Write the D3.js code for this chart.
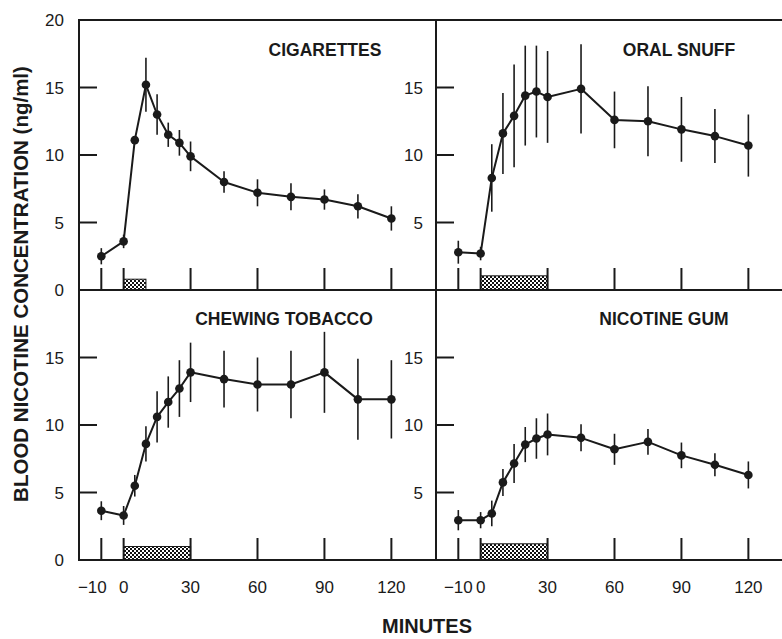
<!DOCTYPE html>
<html>
<head>
<meta charset="utf-8">
<script src="https://cdn.jsdelivr.net/npm/d3@7"></script>
<style>
  html, body { margin: 0; padding: 0; background: #fff; }
  svg { display: block; }
  text { font-family: "Liberation Sans", Arial, Helvetica, sans-serif; fill: #1a1a1a; }
</style>
</head>
<body>
<svg id="chart" width="782" height="639"></svg>
<script>
// ---- data ----
const minutes = [-10, 0, 5, 10, 15, 20, 25, 30, 45, 60, 75, 90, 105, 120];
const panelNames = ["CIGARETTES", "ORAL SNUFF", "CHEWING TOBACCO", "NICOTINE GUM"];

const cigarettesMean = [2.5, 3.6, 11.1, 15.2, 13.0, 11.5, 10.9, 9.9, 8.0, 7.2, 6.9, 6.7, 6.2, 5.3];
const cigarettesErr  = [0.6, 0.5, 0.3, 2.0, 1.5, 0.9, 0.95, 1.1, 0.8, 1.0, 1.0, 0.75, 0.9, 0.9];

const oralSnuffMean = [2.8, 2.7, 8.3, 11.6, 12.9, 14.4, 14.7, 14.3, 14.9, 12.6, 12.5, 11.9, 11.4, 10.7];
const oralSnuffErr  = [0.85, 0.5, 2.5, 3.0, 3.8, 3.7, 3.4, 3.4, 3.3, 2.1, 2.6, 2.4, 2.0, 2.3];

const chewingMean = [3.65, 3.3, 5.5, 8.6, 10.6, 11.7, 12.7, 13.9, 13.4, 13.0, 13.0, 13.9, 11.9, 11.9];
const chewingErr  = [0.7, 0.7, 0.8, 1.3, 1.9, 1.9, 2.1, 2.2, 2.1, 2.0, 2.5, 3.0, 3.0, 2.9];

const gumMean = [2.95, 2.95, 3.45, 5.75, 7.15, 8.55, 9.0, 9.3, 9.05, 8.2, 8.75, 7.75, 7.05, 6.3];
const gumErr  = [0.75, 0.6, 0.95, 1.0, 1.45, 1.3, 1.5, 1.55, 1.0, 1.15, 0.95, 0.95, 0.85, 1.0];

// exposure period [start, end] in minutes and bar height in ng/ml
const exposureStart = [0, 0, 0, 0];
const exposureEnd   = [10, 30, 30, 30];
const exposureLevel = [0.8, 1.05, 1.0, 1.2];

const xTickValues = [-10, 0, 30, 60, 90, 120];
const xTickLabels = ["\u221210", "0", "30", "60", "90", "120"];
const yTickValues = [5, 10, 15];
const yLabelsOuterTop = [0, 5, 10, 15, 20];
const yLabelsOuterBottom = [0, 5, 10, 15];
const yLabelsInner = [5, 10, 15];

// ---- layout ----
const svg = d3.select("#chart");
const ink = "#1a1a1a";

const defs = svg.append("defs");
const pat = defs.append("pattern").attr("id", "checker")
  .attr("patternUnits", "userSpaceOnUse").attr("width", 4).attr("height", 4);
pat.append("rect").attr("width", 4).attr("height", 4).attr("fill", "#111");
pat.append("rect").attr("x", 0).attr("y", 0).attr("width", 2).attr("height", 2).attr("fill", "#fff");
pat.append("rect").attr("x", 2).attr("y", 2).attr("width", 2).attr("height", 2).attr("fill", "#fff");

const colX = [[79, 436], [436, 793]];
const rowY = [[290, 20], [560, 290]];
const panels = [
  { name: panelNames[0], mean: cigarettesMean, err: cigarettesErr, col: 0, row: 0, idx: 0, titleX: 325 },
  { name: panelNames[1], mean: oralSnuffMean, err: oralSnuffErr, col: 1, row: 0, idx: 1, titleX: 679 },
  { name: panelNames[2], mean: chewingMean, err: chewingErr, col: 0, row: 1, idx: 2, titleX: 284 },
  { name: panelNames[3], mean: gumMean, err: gumErr, col: 1, row: 1, idx: 3, titleX: 664 }
];

panels.forEach(p => {
  const x = d3.scaleLinear().domain([-20, 140]).range(colX[p.col]);
  const y = d3.scaleLinear().domain([0, 20]).range(rowY[p.row]);
  const g = svg.append("g");

  // exposure bar
  g.append("rect")
    .attr("x", x(exposureStart[p.idx]))
    .attr("y", y(exposureLevel[p.idx]))
    .attr("width", x(exposureEnd[p.idx]) - x(exposureStart[p.idx]))
    .attr("height", y(0) - y(exposureLevel[p.idx]))
    .attr("fill", "url(#checker)")
    .attr("stroke", ink).attr("stroke-width", 1);

  // x ticks (inward)
  g.selectAll(".xt").data(xTickValues).join("line")
    .attr("x1", d => x(d)).attr("x2", d => x(d))
    .attr("y1", y(0)).attr("y2", y(0) - 22)
    .attr("stroke", ink).attr("stroke-width", 2);

  // y ticks (inward)
  g.selectAll(".yt").data(yTickValues).join("line")
    .attr("x1", x.range()[0]).attr("x2", x.range()[0] + 18)
    .attr("y1", d => y(d)).attr("y2", d => y(d))
    .attr("stroke", ink).attr("stroke-width", 2);

  // panel frame
  g.append("rect")
    .attr("x", x.range()[0]).attr("y", y.range()[1])
    .attr("width", x.range()[1] - x.range()[0])
    .attr("height", y.range()[0] - y.range()[1])
    .attr("fill", "none").attr("stroke", ink).attr("stroke-width", 2);

  // y labels
  const yLabs = p.col === 1 ? yLabelsInner : (p.row === 0 ? yLabelsOuterTop : yLabelsOuterBottom);
  const labX = p.col === 1 ? x.range()[0] - 13 : x.range()[0] - 15;
  g.selectAll(".yl").data(yLabs).join("text")
    .attr("x", labX).attr("y", d => y(d)).attr("dy", "0.36em")
    .attr("text-anchor", "end").attr("font-size", 17)
    .text(d => d);

  // x labels on bottom row
  if (p.row === 1) {
    g.selectAll(".xl").data(xTickValues).join("text")
      .attr("x", (d, i) => x(d) + (p.col === 0 && d === -10 ? -9 : 0))
      .attr("y", 593)
      .attr("text-anchor", "middle").attr("font-size", 17)
      .text((d, i) => xTickLabels[i]);
  }

  const pts = minutes.map((m, i) => ({ m, v: p.mean[i], e: p.err[i] }));

  // error bars
  g.selectAll(".eb").data(pts).join("line")
    .attr("x1", d => x(d.m)).attr("x2", d => x(d.m))
    .attr("y1", d => y(d.v - d.e)).attr("y2", d => y(d.v + d.e))
    .attr("stroke", ink).attr("stroke-width", 1.6);

  // line
  g.append("path").datum(pts)
    .attr("d", d3.line().x(d => x(d.m)).y(d => y(d.v)))
    .attr("fill", "none").attr("stroke", ink).attr("stroke-width", 2)
    .attr("stroke-linejoin", "round");

  // points
  g.selectAll(".pt").data(pts).join("circle")
    .attr("cx", d => x(d.m)).attr("cy", d => y(d.v)).attr("r", 4.3)
    .attr("fill", ink);

  // title
  g.append("text")
    .attr("x", p.titleX).attr("y", p.row === 0 ? 56 : 325)
    .attr("text-anchor", "middle").attr("font-size", 17.5).attr("font-weight", "bold")
    .text(p.name);
});

// axis titles
svg.append("text")
  .attr("transform", "translate(28,284) rotate(-90)")
  .attr("text-anchor", "middle").attr("font-size", 20.5).attr("font-weight", "bold")
  .text("BLOOD NICOTINE CONCENTRATION (ng/ml)");

svg.append("text")
  .attr("x", 427).attr("y", 633)
  .attr("text-anchor", "middle").attr("font-size", 20).attr("font-weight", "bold")
  .text("MINUTES");
</script>
</body>
</html>
